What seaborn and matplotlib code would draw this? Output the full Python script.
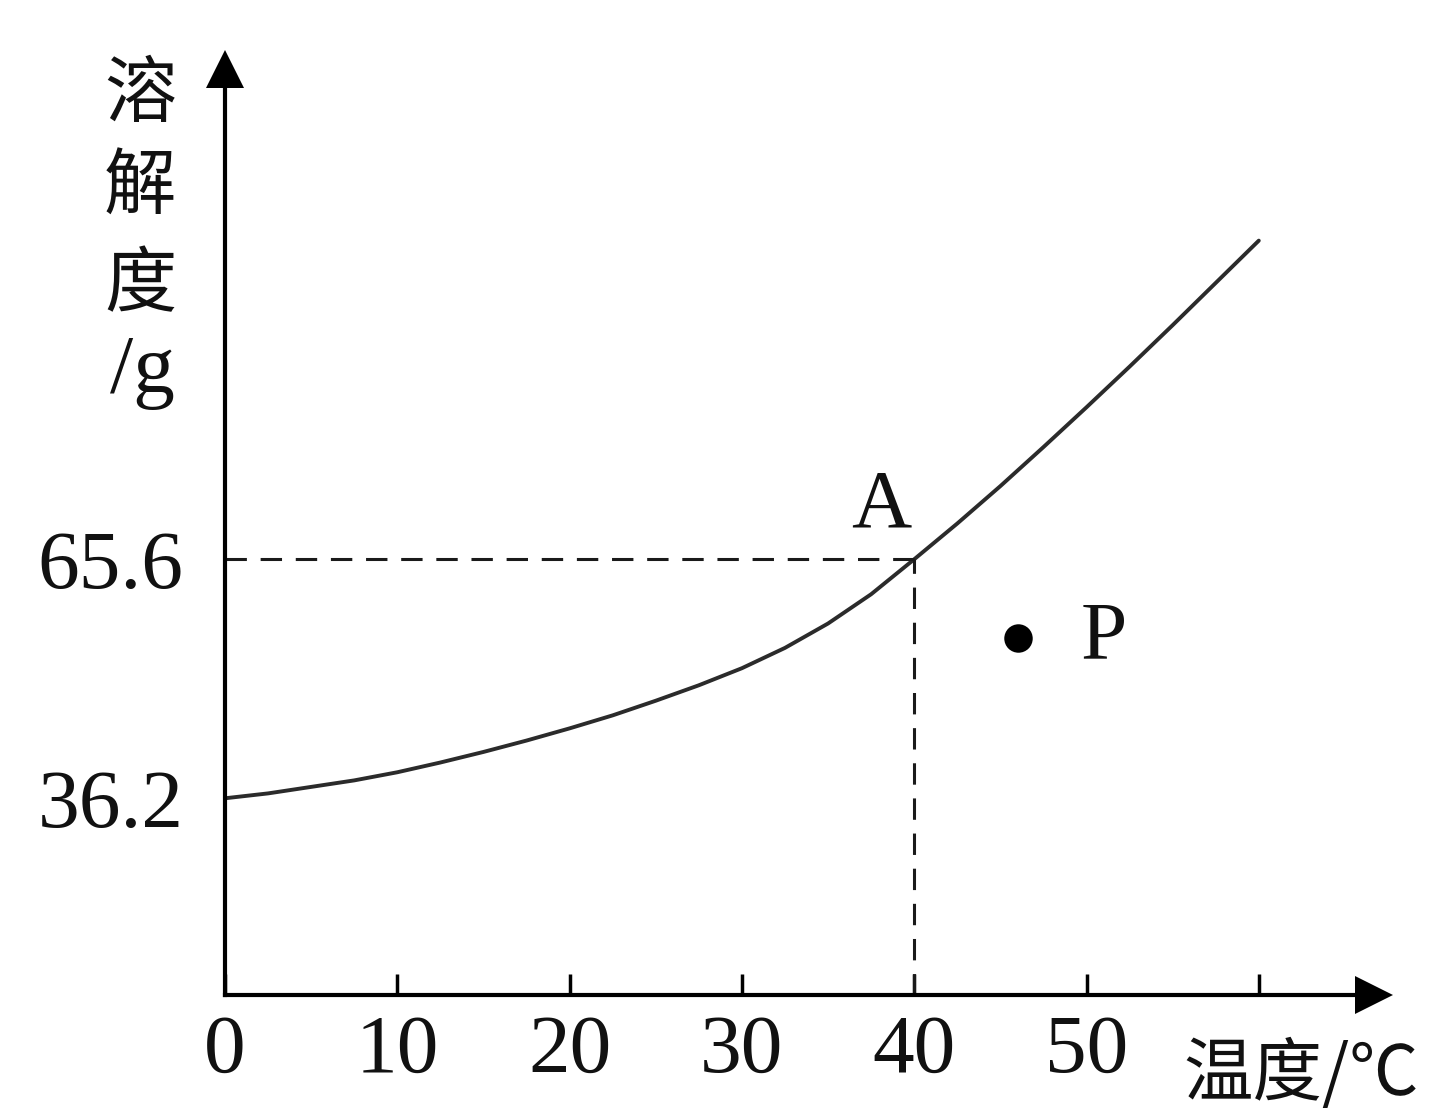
import matplotlib
matplotlib.use("Agg")
import matplotlib.pyplot as plt
import seaborn as sns
import pandas as pd

# ---- data ----
temps = [0, 2.5, 5, 7.5, 10, 12.5, 15, 17.5, 20, 22.5, 25, 27.5, 30, 32.5, 35, 37.5,
         40, 42.5, 45, 47.5, 50, 52.5, 55, 57.5, 60]
solubility = [36.2, 36.8, 37.6, 38.4, 39.4, 40.6, 41.9, 43.3, 44.8, 46.4, 48.2, 50.1,
              52.2, 54.7, 57.7, 61.3, 65.6, 70.0, 74.6, 79.4, 84.3, 89.3, 94.4, 99.6, 104.8]
point_a = [40, 65.6]
point_p = [46, 55.9]
xtick_values = [0, 10, 20, 30, 40, 50, 60]
xtick_labels = ["0", "10", "20", "30", "40", "50", ""]
ytick_values = [36.2, 65.6]
ytick_labels = ["36.2", "65.6"]
ylabel_chars = ["溶", "解", "度"]
ylabel_unit = "/g"
xlabel_text = "温度/℃"

sns.set_theme(style="ticks")
plt.rcParams['font.family'] = ['Liberation Serif', 'Noto Sans CJK SC', 'DejaVu Sans']

W, H = 1450, 1113
fig = plt.figure(figsize=(W / 100, H / 100), dpi=100)
fig.patch.set_facecolor("white")

def fx(px):
    return px / W

def fy(py):
    return 1 - py / H

x0px, y0px = 225, 995
pxx, pxy = 17.23, 8.129
xmin, xmax = 0, 66.7
ymin, ymax = 12.0, 125.9
ax = fig.add_axes([fx(x0px), (H - y0px) / H, (xmax - xmin) * pxx / W, (ymax - ymin) * pxy / H])
ax.set_facecolor("white")

df = pd.DataFrame({"temp": temps, "sol": solubility})
sns.lineplot(data=df, x="temp", y="sol", ax=ax, color="#2b2b2b", linewidth=2.8)

# dashed guide lines to A
ax.plot([xmin, point_a[0]], [point_a[1], point_a[1]], color="#1a1a1a", lw=2.2,
        linestyle=(0, (7, 4.5)))
ax.plot([point_a[0], point_a[0]], [ymin, point_a[1]], color="#1a1a1a", lw=2.2,
        linestyle=(0, (7, 4.5)))

# point P
sns.scatterplot(x=[point_p[0]], y=[point_p[1]], ax=ax, s=420, color="black", linewidth=0)

ax.set_xlim(xmin, xmax)
ax.set_ylim(ymin, ymax)
ax.set_xlabel("")
ax.set_ylabel("")

for s in ["top", "right"]:
    ax.spines[s].set_visible(False)
for s in ["left", "bottom"]:
    ax.spines[s].set_linewidth(3)
    ax.spines[s].set_color("black")

# arrow heads
ax.plot(1, 0, ">", transform=ax.transAxes, clip_on=False, ms=28, color="black", mew=0)
ax.plot(0, 1, "^", transform=ax.transAxes, clip_on=False, ms=28, color="black", mew=0)

ax.set_xticks(xtick_values, xtick_labels)
ax.set_yticks(ytick_values, ytick_labels)
ax.tick_params(axis="x", direction="in", length=15, width=2.5, pad=14, labelsize=60,
               color="black", labelcolor="#111111")
ax.tick_params(axis="y", length=0, pad=30, labelsize=60, labelcolor="#111111")
for lab in ax.get_xticklabels() + ax.get_yticklabels():
    lab.set_family(["Liberation Serif"])

# y axis label (vertical stacked)
ys = [96, 188, 286]
for ch, yy in zip(ylabel_chars, ys):
    fig.text(fx(140), fy(yy), ch, family=["Noto Sans CJK SC"], fontsize=52,
             ha="center", va="center", color="#111111")
fig.text(fx(142), fy(372), ylabel_unit, family=["Liberation Serif"], fontsize=60,
         ha="center", va="center", color="#111111")

# x axis label
fig.text(fx(1183), fy(1040), xlabel_text, family=["Noto Sans CJK SC", "DejaVu Sans"],
         fontsize=50, ha="left", va="top", color="#111111")

# point labels
ax.annotate("A", xy=point_a, xytext=(-24, 38), textcoords="offset points",
            fontsize=60, family=["Liberation Serif"], ha="center", va="center", color="#111111")
ax.annotate("P", xy=point_p, xytext=(62, 0), textcoords="offset points",
            fontsize=60, family=["Liberation Serif"], ha="center", va="center", color="#111111")

fig.savefig("out.png", dpi=100, facecolor="white")
